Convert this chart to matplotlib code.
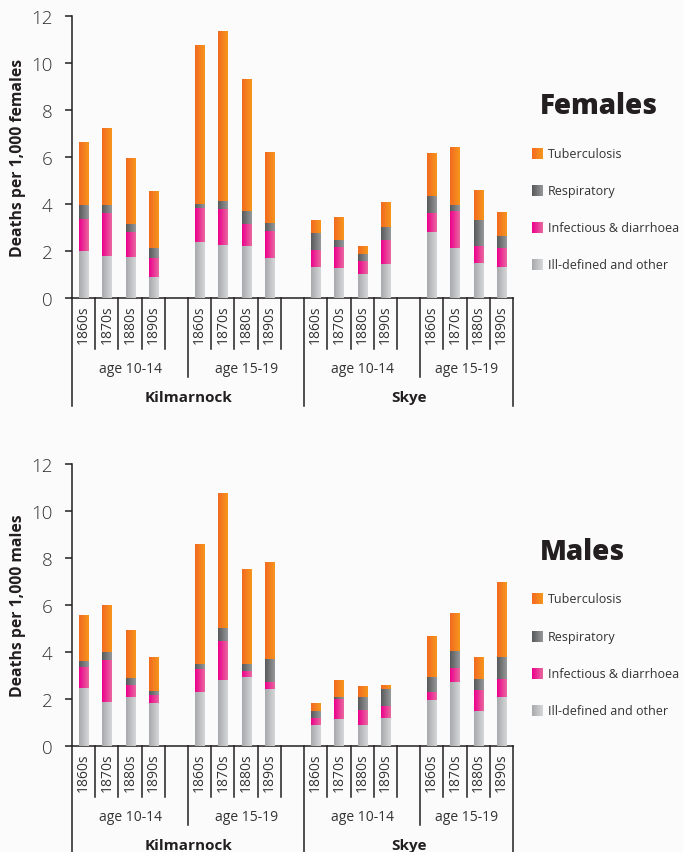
import numpy as np
import matplotlib as mpl
mpl.use('Agg')
import matplotlib.pyplot as plt
import matplotlib.transforms as mtrans
from matplotlib.colors import LinearSegmentedColormap

plt.rcParams['font.family'] = ['Open Sans', 'DejaVu Sans']

decades = ['1860s', '1870s', '1880s', '1890s']
ages = ['age 10-14', 'age 15-19']
places = ['Kilmarnock', 'Skye']
causes = ['Ill-defined and other', 'Infectious & diarrhoea', 'Respiratory', 'Tuberculosis']

# order: Kilmarnock 10-14, Kilmarnock 15-19, Skye 10-14, Skye 15-19 (1860s..1890s each)
fem_other = [2.00, 1.79, 1.75, 0.89, 2.39, 2.26, 2.22, 1.70,
             1.32, 1.28, 1.02, 1.45, 2.81, 2.13, 1.49, 1.32]
fem_infect = [1.37, 1.83, 1.05, 0.81, 1.45, 1.53, 0.92, 1.16,
              0.73, 0.89, 0.56, 1.02, 0.81, 1.58, 0.73, 0.81]
fem_resp = [0.59, 0.34, 0.34, 0.43, 0.17, 0.34, 0.57, 0.34,
            0.72, 0.30, 0.30, 0.56, 0.73, 0.25, 1.10, 0.51]
fem_tb = [2.67, 3.28, 2.77, 2.39, 6.77, 7.20, 5.62, 2.99,
          0.55, 0.94, 0.34, 1.06, 1.79, 2.47, 1.24, 0.98]

male_other = [2.46, 1.86, 2.08, 1.82, 2.29, 2.80, 2.93, 2.42,
              0.88, 1.14, 0.88, 1.18, 1.95, 2.72, 1.48, 2.09]
male_infect = [0.92, 1.79, 0.51, 0.34, 0.98, 1.68, 0.25, 0.30,
               0.30, 0.85, 0.64, 0.51, 0.34, 0.59, 0.89, 0.77]
male_resp = [0.23, 0.35, 0.30, 0.19, 0.21, 0.54, 0.30, 0.98,
             0.30, 0.10, 0.57, 0.74, 0.64, 0.74, 0.49, 0.94]
male_tb = [1.92, 2.00, 2.04, 1.43, 5.08, 5.71, 4.01, 4.09,
           0.34, 0.71, 0.46, 0.16, 1.71, 1.61, 0.92, 3.18]

# gradient (left, right) for each cause
grads = [('#a7a9ac', '#d6d7d8'), ('#ec008c', '#e9689f'),
         ('#58595b', '#97989a'), ('#f26a21', '#f7961d')]
cmaps = [LinearSegmentedColormap.from_list('c%d' % i, g) for i, g in enumerate(grads)]
ramp = np.linspace(0, 1, 64).reshape(1, -1)
ink = '#231f20'

fig = plt.figure(figsize=(6.83, 8.53), dpi=100)
fig.patch.set_facecolor('#fbfbfb')


def slot(i):
    place, rest = divmod(i, 8)
    age, dec = divmod(rest, 4)
    return place * 10 + age * 5 + dec + 0.5


def panel(rect, series, ylabel, title, leg_top):
    ax = fig.add_axes(rect)
    ax.set_facecolor('none')
    xs = [slot(i) for i in range(16)]
    bottom = np.zeros(16)
    for k, vals in enumerate(series):
        bars = ax.bar(xs, vals, 0.39, bottom=bottom, color=grads[k][1], lw=0)
        for b in bars:
            x0, y0 = b.get_x(), b.get_y()
            ax.imshow(ramp, cmap=cmaps[k], aspect='auto', interpolation='bilinear',
                      extent=[x0, x0 + b.get_width(), y0, y0 + b.get_height()], zorder=3)
        bottom += np.array(vals)
    ax.set_xlim(0, 19)
    ax.set_ylim(0, 12)
    ax.set_aspect('auto')
    for s in ['top', 'right']:
        ax.spines[s].set_visible(False)
    for s in ['left', 'bottom']:
        ax.spines[s].set_color(ink)
        ax.spines[s].set_linewidth(1.1)
    ax.set_xticks([])
    ax.set_yticks(range(0, 13, 2))
    ax.tick_params(axis='y', length=5, width=1.1, color=ink, labelsize=13.5,
                   labelcolor='#333333', pad=9)
    for t in ax.get_yticklabels():
        t.set_fontweight('light')
    ax.set_ylabel(ylabel, fontsize=11.3, fontweight='bold', color=ink)
    ax.yaxis.set_label_coords(-0.105, 0.5)

    tr = mtrans.blended_transform_factory(ax.transData, ax.transAxes)
    # category separators below the axis
    for b in range(20):
        if b in (0, 10, 19):
            lo = -0.385
        elif b in (5, 15):
            lo = -0.28
        else:
            lo = -0.181
        ax.plot([b, b], [0, lo], transform=tr, color=ink, lw=1.1, clip_on=False)
    for i in range(16):
        ax.text(xs[i], -0.022, decades[i % 4], transform=tr, rotation=90,
                ha='center', va='top', fontsize=10, color='#333333')
    for p in range(2):
        for a in range(2):
            x0 = p * 10 + a * 5
            x1 = min(x0 + 5, 19)
            ax.text((x0 + x1) / 2, -0.252, ages[a], transform=tr, ha='center',
                    va='center', fontsize=10, color='#333333')
        x0 = p * 10
        x1 = min(x0 + 10, 19)
        ax.text((x0 + x1) / 2, -0.35, places[p], transform=tr, ha='center',
                va='center', fontsize=11, fontweight='bold', color=ink)

    # legend
    lg = fig.add_axes([525 / 683, 1 - (leg_top + 200) / 853, 158 / 683, 200 / 853])
    lg.set_xlim(525, 683)
    lg.set_ylim(leg_top + 200, leg_top)
    lg.axis('off')
    lg.text(540, leg_top + 17, title, fontsize=20, fontweight='heavy', color=ink,
            va='center', ha='left')
    for j, k in enumerate([3, 2, 1, 0]):
        yc = leg_top + 64 + j * 37.3
        lg.imshow(ramp, cmap=cmaps[k], aspect='auto', interpolation='bilinear',
                  extent=[532, 543, yc + 5.5, yc - 5.5])
        lg.text(548, yc, causes[k], fontsize=9, color='#333333', va='center', ha='left')
    lg.set_xlim(525, 683)
    lg.set_ylim(leg_top + 200, leg_top)
    return ax


panel([72 / 683, 1 - 299 / 853, 441 / 683, 281.7 / 853],
      [fem_other, fem_infect, fem_resp, fem_tb],
      'Deaths per 1,000 females', 'Females', 90)
panel([72 / 683, 1 - 747 / 853, 441 / 683, 281.7 / 853],
      [male_other, male_infect, male_resp, male_tb],
      'Deaths per 1,000 males', 'Males', 536)

fig.savefig('out.png', dpi=100, facecolor=fig.get_facecolor())
